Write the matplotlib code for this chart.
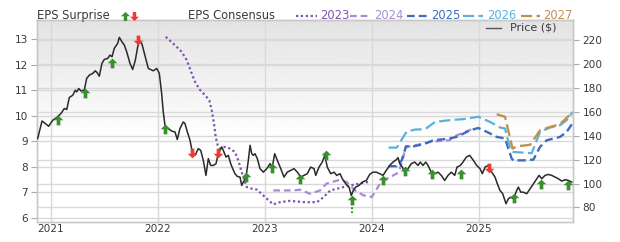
import numpy as np
import matplotlib
matplotlib.use("Agg")
import matplotlib.pyplot as plt
from matplotlib.path import Path
from matplotlib.lines import Line2D

# ---------------- data ----------------
price_t = [2020.878, 2020.919, 2020.950, 2020.981, 2021.019, 2021.056, 2021.096, 2021.127, 2021.150, 2021.174,
           2021.206, 2021.230, 2021.243, 2021.262, 2021.283, 2021.314, 2021.336, 2021.361, 2021.393, 2021.417,
           2021.439, 2021.454, 2021.479, 2021.501, 2021.533, 2021.554, 2021.573, 2021.594, 2021.626, 2021.641,
           2021.666, 2021.688, 2021.710, 2021.741, 2021.766, 2021.791, 2021.813, 2021.828, 2021.853, 2021.884,
           2021.912, 2021.959, 2021.991, 2022.015, 2022.037, 2022.052, 2022.068, 2022.099, 2022.131, 2022.162,
           2022.183, 2022.208, 2022.239, 2022.255, 2022.277, 2022.302, 2022.323, 2022.349, 2022.379, 2022.402,
           2022.426, 2022.451, 2022.473, 2022.495, 2022.520, 2022.545, 2022.566, 2022.598, 2022.613, 2022.638,
           2022.660, 2022.682, 2022.701, 2022.722, 2022.744, 2022.769, 2022.785, 2022.800, 2022.825, 2022.847,
           2022.863, 2022.879, 2022.893, 2022.909, 2022.931, 2022.956, 2022.987, 2023.019, 2023.050, 2023.071,
           2023.093, 2023.118, 2023.150, 2023.180, 2023.211, 2023.243, 2023.274, 2023.305, 2023.336, 2023.367,
           2023.398, 2023.430, 2023.461, 2023.477, 2023.507, 2023.538, 2023.561, 2023.585, 2023.617, 2023.648,
           2023.673, 2023.704, 2023.725, 2023.757, 2023.788, 2023.809, 2023.828, 2023.850, 2023.881, 2023.912,
           2023.950, 2023.981, 2024.012, 2024.043, 2024.075, 2024.106, 2024.136, 2024.168, 2024.199, 2024.230,
           2024.246, 2024.262, 2024.286, 2024.308, 2024.339, 2024.370, 2024.402, 2024.433, 2024.454, 2024.479,
           2024.505, 2024.526, 2024.557, 2024.589, 2024.620, 2024.650, 2024.682, 2024.713, 2024.744, 2024.776,
           2024.797, 2024.828, 2024.853, 2024.884, 2024.916, 2024.950, 2024.981, 2025.012, 2025.034, 2025.059,
           2025.090, 2025.121, 2025.152, 2025.174, 2025.199, 2025.224, 2025.255, 2025.277, 2025.299, 2025.324,
           2025.355, 2025.370, 2025.393, 2025.417, 2025.449, 2025.480, 2025.511, 2025.543, 2025.564, 2025.589,
           2025.620, 2025.650, 2025.682, 2025.713, 2025.744, 2025.776, 2025.807, 2025.837, 2025.869]
price = [137.5, 152.2, 150.0, 147.8, 152.8, 155.1, 158.4, 162.6, 161.8, 171.8,
         173.7, 177.9, 176.5, 179.3, 177.3, 177.9, 187.7, 190.5, 191.9, 194.1,
         191.9, 189.6, 200.3, 203.6, 204.4, 207.2, 205.8, 212.8, 217.0, 222.0,
         218.3, 215.6, 210.0, 200.3, 195.2, 203.0, 214.1, 219.7, 216.4, 205.8,
         196.1, 194.1, 196.1, 191.9, 175.1, 159.7, 148.6, 145.9, 143.8, 143.0,
         136.7, 145.9, 151.4, 150.0, 143.0, 136.1, 126.3, 123.5, 129.1, 127.7,
         119.3, 106.8, 120.8, 115.1, 115.1, 116.6, 124.9, 130.5, 127.7, 122.1,
         123.5, 116.6, 112.4, 108.2, 105.9, 105.4, 98.4, 101.2, 105.4, 119.3,
         131.9, 124.9, 123.5, 124.9, 120.8, 112.4, 109.5, 112.4, 116.6, 113.7,
         124.9, 119.3, 112.4, 105.4, 109.5, 111.0, 112.4, 109.5, 105.4, 106.8,
         108.2, 113.7, 112.4, 106.8, 113.7, 117.9, 123.5, 113.7, 108.2, 109.5,
         106.8, 108.2, 104.0, 99.8, 97.0, 90.0, 94.2, 97.0, 98.4, 101.2,
         102.6, 107.6, 109.5, 109.5, 108.2, 106.8, 111.0, 115.1, 117.9, 119.9,
         121.6, 116.6, 113.7, 109.5, 112.4, 116.6, 117.9, 115.1, 117.9, 115.1,
         117.9, 115.1, 109.5, 108.2, 109.5, 106.8, 102.6, 106.8, 109.5, 106.8,
         113.7, 115.1, 117.9, 122.1, 123.5, 119.3, 115.1, 112.4, 108.2, 113.7,
         115.1, 109.5, 105.4, 99.8, 94.2, 91.5, 83.1, 87.3, 88.6, 87.3,
         94.2, 97.0, 92.8, 92.8, 91.5, 95.6, 99.8, 104.0, 106.8, 104.0,
         106.8, 107.6, 106.8, 105.4, 104.0, 102.0, 103.2, 102.6, 101.2]

# EPS surprise markers (placed on the price scale)
beat_t = [2021.071, 2021.321, 2021.570, 2022.068, 2022.825, 2023.068, 2023.330, 2023.570, 2023.813,
          2024.104, 2024.311, 2024.568, 2024.834, 2025.331, 2025.582, 2025.830]
beat_p = [152.8, 175.6, 200.8, 145.9, 105.4, 112.6, 103.4, 123.5, 86.0,
          103.0, 110.4, 108.2, 108.2, 87.9, 99.2, 98.8]
miss_t = [2021.819, 2022.318, 2022.566, 2025.099]
miss_p = [219.7, 125.4, 125.4, 112.9]
big_beat_t = [2023.813, 2023.813]
big_beat_p = [83.5, 75.5]

# EPS consensus by fiscal year
c2023_t = [2022.075, 2022.162, 2022.224, 2022.271, 2022.318, 2022.349, 2022.396, 2022.443, 2022.482, 2022.505,
           2022.526, 2022.542, 2022.561, 2022.582, 2022.629, 2022.676, 2022.722, 2022.753, 2022.785, 2022.816,
           2022.832, 2022.879, 2022.928, 2023.003, 2023.080, 2023.143, 2023.236, 2023.367, 2023.489, 2023.551,
           2023.614, 2023.735, 2023.829, 2023.922, 2023.969]
c2023 = [13.10, 12.77, 12.51, 12.19, 11.66, 11.33, 11.01, 10.81, 10.61, 10.22,
         9.70, 9.17, 8.84, 8.71, 8.78, 8.71, 8.58, 8.25, 7.79, 7.40,
         7.20, 7.14, 7.10, 6.81, 6.52, 6.61, 6.66, 6.61, 6.61, 6.81,
         7.07, 7.20, 7.29, 7.37, 7.40]
c2024_t = [2023.080, 2023.274, 2023.330, 2023.423, 2023.517, 2023.579, 2023.704, 2023.766, 2023.844, 2023.921,
           2024.000, 2024.078, 2024.140, 2024.234, 2024.264, 2024.295, 2024.318, 2024.355, 2024.449, 2024.542,
           2024.636, 2024.729, 2024.760, 2024.853, 2024.950]
c2024 = [7.07, 7.07, 7.10, 6.94, 7.07, 7.34, 7.49, 7.40, 7.07, 6.88,
         6.81, 7.34, 7.53, 7.73, 7.93, 8.38, 8.78, 8.80, 8.88, 8.97,
         9.01, 9.04, 9.17, 9.33, 9.50]
c2025_t = [2024.157, 2024.234, 2024.280, 2024.321, 2024.389, 2024.482, 2024.576, 2024.701, 2024.794, 2024.919,
           2024.996, 2025.075, 2025.168, 2025.246, 2025.308, 2025.323, 2025.417, 2025.511, 2025.573, 2025.636,
           2025.760, 2025.822, 2025.879]
c2025 = [8.02, 8.02, 8.25, 8.80, 8.80, 8.88, 9.04, 9.09, 9.17, 9.43,
         9.52, 9.37, 9.17, 9.11, 8.32, 8.25, 8.25, 8.28, 8.78, 9.04,
         9.17, 9.37, 9.72]
c2026_t = [2024.157, 2024.234, 2024.325, 2024.405, 2024.498, 2024.592, 2024.732, 2024.856, 2024.996, 2025.106,
           2025.199, 2025.246, 2025.293, 2025.323, 2025.495, 2025.573, 2025.667, 2025.760, 2025.822, 2025.879]
c2026 = [8.75, 8.75, 9.37, 9.46, 9.47, 9.76, 9.83, 9.87, 9.96, 9.76,
         9.54, 9.50, 8.71, 8.58, 8.53, 9.37, 9.54, 9.63, 9.83, 10.15]
c2027_t = [2025.168, 2025.246, 2025.316, 2025.355, 2025.480, 2025.573, 2025.667, 2025.760, 2025.879]
c2027 = [10.06, 9.96, 8.71, 8.80, 8.86, 9.43, 9.56, 9.67, 10.15]

year_ticks = [2021, 2022, 2023, 2024, 2025]
year_labels = ["2021", "2022", "2023", "2024", "2025"]
eps_ticks = [6, 7, 8, 9, 10, 11, 12, 13]
price_ticks = [80, 100, 120, 140, 160, 180, 200, 220]

# ---------------- style ----------------
W, H = 620, 242
plt.rcParams['font.family'] = ['DejaVu Sans']
fig = plt.figure(figsize=(W / 100, H / 100), dpi=100)
L, R, T, B = 37, 573, 20, 221.5
ax = fig.add_axes([L / W, 1 - B / H, (R - L) / W, (B - T) / H])
ax2 = ax.twinx()

col_2023 = "#7d52b0"
col_2024 = "#a98bd3"
col_2025 = "#3d6cc0"
col_2026 = "#5ab0e0"
col_2027 = "#c0914e"
col_price = "#2a2a2a"
col_up = "#3a8f2e"
col_dn = "#ec3b2f"
txt = "#3a3a3a"
gridc = "#d9d9d9"

ax.set_xlim(2020.872, 2025.881)
ax.set_ylim(5.85, 13.76)
ax2.set_ylim(68.3, 236.5)

# gradient background
grad = np.concatenate([np.linspace(0.89, 1.0, 60), np.ones(40)])[:, None]
ax.imshow(grad, extent=[0, 1, 0, 1], transform=ax.transAxes, aspect='auto',
          cmap='gray', vmin=0, vmax=1, zorder=0, origin='upper', interpolation='bilinear')

# grids: vertical years, horizontal for both axes
for yt in year_ticks:
    ax.axvline(yt, color=gridc, lw=1.0, zorder=1)
for e in eps_ticks:
    ax.axhline(e, color=gridc, lw=1.0, zorder=1)
p0, p1 = ax2.get_ylim()
for p in price_ticks:
    f = (p - p0) / (p1 - p0)
    ax.plot([0, 1], [f, f], transform=ax.transAxes, color=gridc, lw=1.0, zorder=1)

# consensus lines
ax.plot(c2023_t, c2023, color=col_2023, lw=1.6, linestyle=(0, (1, 1.2)), zorder=3)
ax.plot(c2024_t, c2024, color=col_2024, lw=1.6, linestyle=(0, (3, 1.8)), zorder=3)
ax.plot(c2025_t, c2025, color=col_2025, lw=1.7, linestyle=(0, (3.5, 1.8)), zorder=3)
ax.plot(c2026_t, c2026, color=col_2026, lw=1.6, linestyle=(0, (5, 2)), zorder=3)
ax.plot(c2027_t, c2027, color=col_2027, lw=1.7, linestyle=(0, (5, 2)), zorder=3)

# price
ax2.plot(price_t, price, color=col_price, lw=1.1, zorder=4)

up_path = Path([(-1, 0.05), (0, 1), (1, 0.05), (0.38, 0.05), (0.38, -1), (-0.38, -1), (-0.38, 0.05), (-1, 0.05)],
               [Path.MOVETO] + [Path.LINETO] * 6 + [Path.CLOSEPOLY])
dn_path = Path([(x, -y) for x, y in up_path.vertices], up_path.codes)

ax2.plot(big_beat_t, big_beat_p, color=col_up, lw=1.5, linestyle=(0, (1, 1)), zorder=5)
ax2.plot(beat_t, beat_p, linestyle='none', marker=up_path, markersize=7, color=col_up,
         markeredgewidth=0, zorder=6)
ax2.plot(miss_t, miss_p, linestyle='none', marker=dn_path, markersize=7, color=col_dn,
         markeredgewidth=0, zorder=6)

# axes styling
for a in (ax, ax2):
    for s in a.spines.values():
        s.set_color("#c8c8c8")
        s.set_linewidth(1.0)
ax.set_xticks(year_ticks)
ax.set_xticklabels(year_labels)
ax.tick_params(axis='x', length=0, pad=1.5, labelsize=7.6, labelcolor=txt)
ax.set_yticks(eps_ticks)
ax.set_yticklabels([str(v) for v in eps_ticks])
ax.tick_params(axis='y', length=4, width=0.8, color="#aaaaaa", pad=2.5, labelsize=7.6, labelcolor=txt)
ax2.set_yticks(price_ticks)
ax2.set_yticklabels([str(v) for v in price_ticks])
ax2.tick_params(axis='y', length=4.5, width=0.8, color="#aaaaaa", pad=2.5, labelsize=7.6, labelcolor=txt)

# ---------------- header legend ----------------
def fx(x):
    return x / W

def fy(y):
    return 1 - y / H

hy = 15.5
fig.text(fx(37), fy(hy), "EPS Surprise", fontsize=8.3, color=txt, va='center', ha='left')
fig.add_artist(Line2D([fx(125)], [fy(hy)], marker=up_path, markersize=6.5, color=col_up,
                      markeredgewidth=0, transform=fig.transFigure))
fig.add_artist(Line2D([fx(134)], [fy(hy)], marker=dn_path, markersize=6.5, color=col_dn,
                      markeredgewidth=0, transform=fig.transFigure))
fig.text(fx(188), fy(hy), "EPS Consensus", fontsize=8.3, color=txt, va='center', ha='left')

leg_items = [
    (296, 317, 320, "2023", col_2023, (0, (1, 1.2))),
    (350, 370, 374, "2024", col_2024, (0, (3, 1.8))),
    (407, 428, 431, "2025", col_2025, (0, (3.5, 1.8))),
    (463, 483, 487, "2026", col_2026, (0, (5, 2))),
    (521, 540, 543, "2027", col_2027, (0, (5, 2))),
]
for x0, x1, xt, lab, c, ls in leg_items:
    fig.add_artist(Line2D([fx(x0), fx(x1)], [fy(hy), fy(hy)], color=c, lw=1.6, linestyle=ls,
                          transform=fig.transFigure))
    fig.text(fx(xt), fy(hy), lab, fontsize=8.3, color=c, va='center', ha='left')

# price legend inside plot
fig.add_artist(Line2D([fx(486), fx(501)], [fy(28), fy(28)], color="#555555", lw=1.0,
                      transform=fig.transFigure))
fig.text(fx(510), fy(28), "Price ($)", fontsize=8.0, color=txt, va='center', ha='left')

fig.savefig("out.png", dpi=100)
